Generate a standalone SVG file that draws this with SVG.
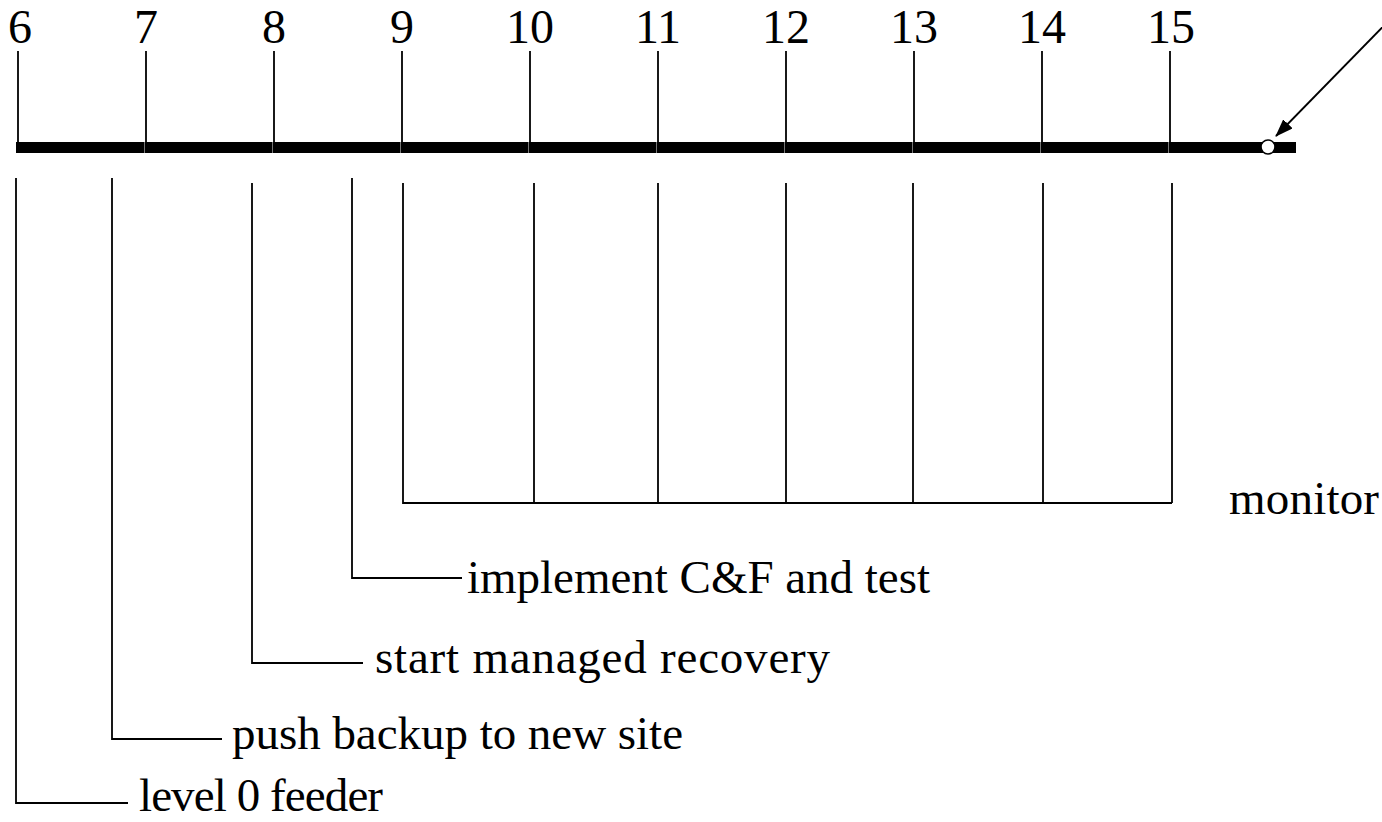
<svg xmlns="http://www.w3.org/2000/svg" width="1382" height="822" viewBox="0 0 1382 822">
<style>
.num{font-family:"Liberation Serif","Times New Roman",serif;font-size:48px;fill:#000;text-anchor:middle}
.lbl{font-family:"Liberation Serif","Times New Roman",serif;font-size:47px;fill:#000}
.tk{stroke:#000;stroke-width:1.8;fill:none}
.seg{stroke:#777;stroke-width:1}
.ln{stroke:#000;stroke-width:1.8;fill:none}
</style>
<defs>
<marker id="ahb" markerWidth="18" markerHeight="13" refX="17" refY="6.5" orient="auto" markerUnits="userSpaceOnUse" viewBox="0 0 18 13">
<path d="M0,0 L18,6.5 L0,13 Z" fill="#000"/>
</marker>
</defs>
<rect width="1382" height="822" fill="#fff"/>
<g id="timeline">
<rect x="16" y="142" width="1280" height="11" fill="#000"/>
<g class="seg">
<line x1="144.5" y1="142" x2="144.5" y2="153"/>
<line x1="272.5" y1="142" x2="272.5" y2="153"/>
<line x1="400.5" y1="142" x2="400.5" y2="153"/>
<line x1="528.5" y1="142" x2="528.5" y2="153"/>
<line x1="656.5" y1="142" x2="656.5" y2="153"/>
<line x1="784.5" y1="142" x2="784.5" y2="153"/>
<line x1="912.5" y1="142" x2="912.5" y2="153"/>
<line x1="1040.5" y1="142" x2="1040.5" y2="153"/>
<line x1="1168.5" y1="142" x2="1168.5" y2="153"/>
</g>
<g class="tk">
<line x1="18" y1="51" x2="18" y2="143"/>
<line x1="146" y1="51" x2="146" y2="143"/>
<line x1="274" y1="51" x2="274" y2="143"/>
<line x1="402" y1="51" x2="402" y2="143"/>
<line x1="530" y1="51" x2="530" y2="143"/>
<line x1="658" y1="51" x2="658" y2="143"/>
<line x1="786" y1="51" x2="786" y2="143"/>
<line x1="914" y1="51" x2="914" y2="143"/>
<line x1="1042" y1="51" x2="1042" y2="143"/>
<line x1="1170" y1="51" x2="1170" y2="143"/>
</g>
<text class="num" x="20" y="43">6</text>
<text class="num" x="146" y="43">7</text>
<text class="num" x="274" y="43">8</text>
<text class="num" x="402" y="43">9</text>
<text class="num" x="530" y="43">10</text>
<text class="num" x="658" y="43">11</text>
<text class="num" x="786" y="43">12</text>
<text class="num" x="914" y="43">13</text>
<text class="num" x="1042" y="43">14</text>
<text class="num" x="1171" y="43">15</text>
<circle cx="1268" cy="147" r="7" fill="#fff" stroke="#000" stroke-width="1.6"/>
</g>
<g id="task-level0"><text class="lbl" x="139" y="811" textLength="244">level 0 feeder</text></g>
<g id="task-push"><text class="lbl" x="232" y="749" textLength="451">push backup to new site</text></g>
<g id="task-recovery"><text class="lbl" x="375" y="673" textLength="455">start managed recovery</text></g>
<g id="task-implement"><text class="lbl" x="467" y="593" textLength="463">implement C&amp;F and test</text></g>
<g id="task-monitor"><text class="lbl" x="1229" y="514" textLength="150">monitor</text></g>
<g id="connectors">
<polyline class="ln" points="16,178 16,803 128,803"/>
<polyline class="ln" points="112,178 112,739 222,739"/>
<polyline class="ln" points="252,183 252,663 363,663"/>
<polyline class="ln" points="352,178 352,578 462,578"/>
<polyline class="ln" points="403,183 403,503 1172,503"/>
<line class="ln" x1="534" y1="183" x2="534" y2="503"/>
<line class="ln" x1="658" y1="183" x2="658" y2="503"/>
<line class="ln" x1="786" y1="183" x2="786" y2="503"/>
<line class="ln" x1="913" y1="183" x2="913" y2="503"/>
<line class="ln" x1="1043" y1="183" x2="1043" y2="503"/>
<line class="ln" x1="1172" y1="183" x2="1172" y2="503"/>
<line class="ln" x1="1409" y1="0" x2="1276" y2="136" marker-end="url(#ahb)"/>
</g>
</svg>
